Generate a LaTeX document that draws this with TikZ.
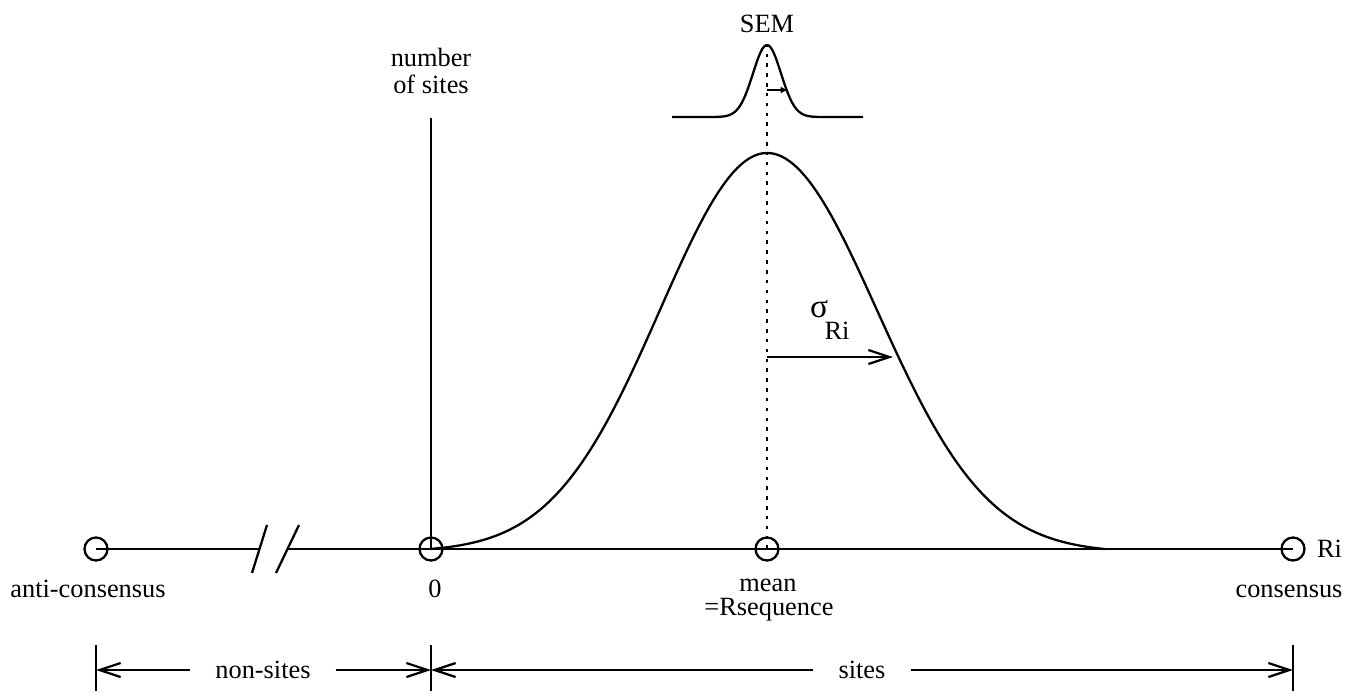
\documentclass[tikz,border=0pt]{standalone}
\usepackage{fontspec}
\setmainfont{Liberation Serif}
\usetikzlibrary{arrows.meta, positioning}

\tikzset{
  site/.style={draw, circle, minimum size=0.46cm, inner sep=0pt},
  barb/.style={-{Straight Barb[length=0.42cm,width=0.28cm]}},
  meanline/.style={dash pattern=on 2pt off 3.6pt},
  dimlabel/.style={inner xsep=0.48cm},
}

\begin{document}
\begin{tikzpicture}[x=0.02cm, y=-0.02cm, line width=1.3pt, font=\fontsize{15}{15}\selectfont]
    \useasboundingbox (0,0) rectangle (1346,690);
    % sites on the Ri axis
    \node[site] (anti) at (96,549) {};
    \node[site] (zero) at (431,549) {};
    \node[site] (mean) at (767,549) {};
    \node[site] (cons) at (1293,549) {};
    \coordinate (brk-l) at (260,549);
    \coordinate (brk-r) at (287,549);
    \coordinate (ytop) at (431,118);
    \coordinate (semtop) at (767,45);
    \draw (anti.center) -- (brk-l);
    \draw (brk-r) -- (cons.center);
    \draw ([shift={(-8,24)}]brk-l) -- ([shift={(7,-24)}]brk-l);
    \draw ([shift={(-11,24)}]brk-r) -- ([shift={(12,-24)}]brk-r);
    \draw (zero.center) -- (ytop);
    \draw[meanline] (mean.center) -- (semtop);
    % distributions
    \draw plot[domain=431:767, samples=90] (\x, {549-396*(exp(-((\x-767)/107)^2/2)-0.007)/0.993});
    \draw plot[domain=767:1105, samples=90] (\x, {549-396*(exp(-((\x-767)/110)^2/2)-0.009)/0.991});
    \draw plot[domain=672:863, samples=90] (\x, {117-72*exp(-((\x-767)/14)^2/2)});
    \coordinate (sem-a) at (767,90);
    \coordinate (sem-b) at (788,90);
    \draw[-{Latex[length=0.15cm,width=0.14cm]}] (sem-a) -- (sem-b);
    \coordinate (sd-a) at (767,357);
    \coordinate (sd-b) at (893,357);
    \draw[barb] (sd-a) -- (sd-b);
    % labels
    \node (semlab) at (767,24) {SEM};
    \node[align=center] (ylab) at (431,71) {number\\of sites};
    \node[anchor=base west, inner sep=0pt] (siglab) at (809,317) {{\fontsize{19}{19}\selectfont σ}\kern-2pt\raisebox{-0.45cm}{Ri}};
    \node[right=0.09cm of cons] (rilab) {Ri};
    \node[anchor=base] (antilab) at (88,597) {anti-consensus};
    \node[anchor=base] (zerolab) at (435,597) {0};
    \node[anchor=base] (meanlab) at (768,591) {mean};
    \node[anchor=base] (rseqlab) at (769,615) {=Rsequence};
    \node[anchor=base] (conslab) at (1289,597) {consensus};
    % non-sites and sites
    \coordinate (tk-a) at (96,670);
    \coordinate (tk-b) at (431,670);
    \coordinate (tk-c) at (1293,670);
    \foreach \t in {tk-a, tk-b, tk-c}
        \draw ([yshift=0.5cm]\t) -- ([yshift=-0.42cm]\t);
    \node[dimlabel] (nonsites) at (263,670) {non-sites};
    \node[dimlabel] (sites) at (862,670) {sites};
    \draw[barb] (nonsites.west) -- (tk-a);
    \draw[barb] (nonsites.east) -- (tk-b);
    \draw[barb] (sites.west) -- (tk-b);
    \draw[barb] (sites.east) -- (tk-c);
\end{tikzpicture}
\end{document}
